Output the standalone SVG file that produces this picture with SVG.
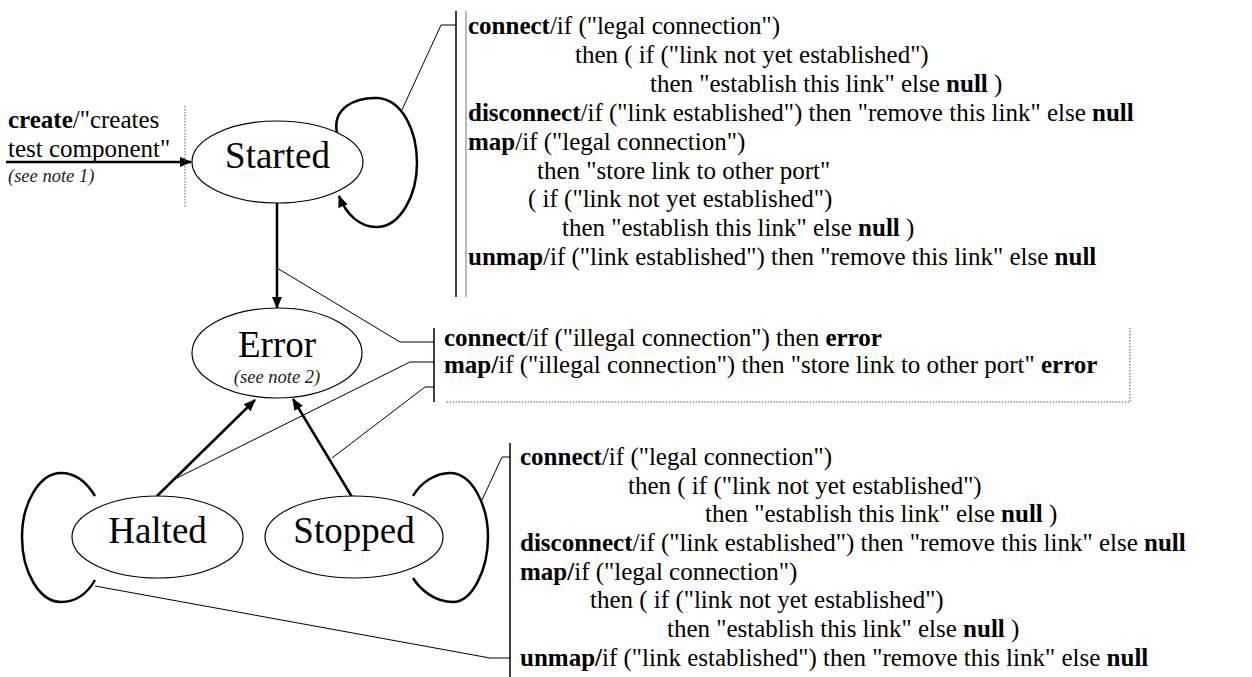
<svg xmlns="http://www.w3.org/2000/svg" width="1252" height="677" viewBox="0 0 1252 677">
<style>
text{font-family:"Liberation Serif","Times New Roman",serif;fill:#000}
.t{font-size:25px}
.m{font-size:25px}
.lbl{font-size:37px}
.note{font-size:18.5px;font-style:italic;fill:#222}
.b{font-weight:bold}
.st{fill:#fff;stroke:#000;stroke-width:1.2}
.arr{fill:none;stroke:#000;stroke-width:2.5}
.loop{fill:none;stroke:#000;stroke-width:2.5}
.thin{fill:none;stroke:#000;stroke-width:1}
.bar{stroke:#000;stroke-width:1.5}
.gbar{stroke:#777;stroke-width:1}
.dot{stroke:#555;stroke-width:1;stroke-dasharray:1.5 1.5;fill:none}
</style>
<defs>
<marker id="ah" viewBox="0 0 12 10" refX="11" refY="5" markerWidth="12" markerHeight="10" markerUnits="userSpaceOnUse" orient="auto">
<path d="M0,0 L12,5 L0,10 z" fill="#000"/>
</marker>
</defs>
<g id="connectors">
<line class="arr" x1="6" y1="162" x2="191" y2="162" marker-end="url(#ah)"/>
<line class="dot" x1="185" y1="106" x2="185" y2="207"/>
<path class="loop" d="M337,133 C332,108 355,97 378,98 C402,100 417,130 417,163 C417,196 400,226 378,227 C360,228 346,214 339,196" marker-end="url(#ah)"/>
<line class="arr" x1="277" y1="203" x2="277" y2="308" marker-end="url(#ah)"/>
<line class="arr" x1="157" y1="496" x2="255" y2="400" marker-end="url(#ah)"/>
<line class="arr" x1="352" y1="497" x2="293" y2="399" marker-end="url(#ah)"/>
<path class="loop" d="M95,496 C86,481 75,473 61,473 C40,473 22,502 22,537 C22,573 40,602 61,602 C75,602 87,594 95,580"/>
<path class="loop" d="M413,496 C421,482 436,473 450,473 C472,473 488,505 488,537 C488,570 472,602 453,602 C436,602 421,591 413,578"/>
<polyline class="thin" points="401,112 441,25 456,25"/>
<polyline class="thin" points="277,268 400,342 434,342"/>
<polyline class="thin" points="177,478 410,362 434,362"/>
<polyline class="thin" points="332,458 425,387 434,387"/>
<polyline class="thin" points="482,500 502,457 510,457"/>
<polyline class="thin" points="95,586 490,658 510,658"/>
</g>
<g id="node-started">
<ellipse class="st" cx="277.5" cy="162" rx="85.5" ry="41"/>
<text class="lbl" x="277.5" y="168" text-anchor="middle">Started</text>
</g>
<g id="node-error">
<ellipse class="st" cx="277" cy="353" rx="85" ry="45"/>
<text class="lbl" x="277" y="357" text-anchor="middle">Error</text>
<text class="note" x="277" y="383" text-anchor="middle">(see note 2)</text>
</g>
<g id="node-halted">
<ellipse class="st" cx="157.5" cy="537" rx="85.5" ry="41"/>
<text class="lbl" x="157.5" y="543" text-anchor="middle">Halted</text>
</g>
<g id="node-stopped">
<ellipse class="st" cx="354" cy="537" rx="89" ry="41"/>
<text class="lbl" x="354" y="543" text-anchor="middle">Stopped</text>
</g>
<g id="create-label">
<text class="t" x="8" y="128"><tspan class="b">create</tspan>/"creates</text>
<text class="t" x="8" y="157">test component"</text>
<text class="note" x="8" y="182">(see note 1)</text>
</g>
<g id="note-started">
<line class="bar" x1="456" y1="11" x2="456" y2="297"/>
<line class="gbar" x1="466" y1="11" x2="466" y2="297"/>
<text class="t" x="468" y="34"><tspan class="b">connect</tspan>/if ("legal connection")</text>
<text class="t" x="575" y="63">then ( if ("link not yet established")</text>
<text class="t" x="650" y="92">then "establish this link" else <tspan class="b">null</tspan> )</text>
<text class="t" x="468" y="121"><tspan class="b">disconnect</tspan>/if ("link established") then "remove this link" else <tspan class="b">null</tspan></text>
<text class="t" x="468" y="150"><tspan class="b">map</tspan>/if ("legal connection")</text>
<text class="t" x="537" y="179">then "store link to other port"</text>
<text class="t" x="528" y="207">( if ("link not yet established")</text>
<text class="t" x="562" y="236">then "establish this link" else <tspan class="b">null</tspan> )</text>
<text class="t" x="468" y="265"><tspan class="b">unmap</tspan>/if ("link established") then "remove this link" else <tspan class="b">null</tspan></text>
</g>
<g id="note-error">
<line class="bar" x1="434" y1="328" x2="434" y2="402"/>
<polyline class="dot" points="1130,328 1130,402 446,402"/>
<text class="m" x="444" y="346"><tspan class="b">connect</tspan>/if ("illegal connection") then <tspan class="b">error</tspan></text>
<text class="m" x="444" y="373"><tspan class="b">map/</tspan>if ("illegal connection") then "store link to other port" <tspan class="b">error</tspan></text>
</g>
<g id="note-halted-stopped">
<line class="bar" x1="510" y1="443" x2="510" y2="677"/>
<text class="t" x="520" y="465"><tspan class="b">connect</tspan>/if ("legal connection")</text>
<text class="t" x="628" y="494">then ( if ("link not yet established")</text>
<text class="t" x="705" y="522">then "establish this link" else <tspan class="b">null</tspan> )</text>
<text class="t" x="520" y="551"><tspan class="b">disconnect</tspan>/if ("link established") then "remove this link" else <tspan class="b">null</tspan></text>
<text class="t" x="520" y="580"><tspan class="b">map/</tspan>if ("legal connection")</text>
<text class="t" x="590" y="608">then ( if ("link not yet established")</text>
<text class="t" x="667" y="637">then "establish this link" else <tspan class="b">null</tspan> )</text>
<text class="t" x="520" y="666"><tspan class="b">unmap/</tspan>if ("link established") then "remove this link" else <tspan class="b">null</tspan></text>
</g>
</svg>
